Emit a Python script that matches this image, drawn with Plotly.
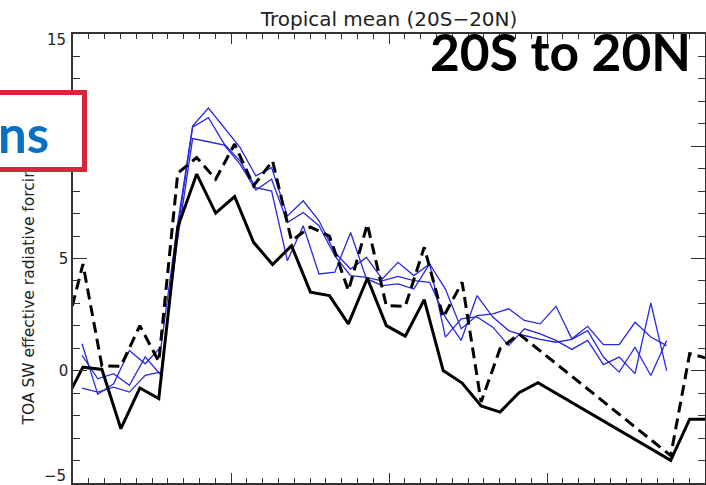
import plotly.graph_objects as go

# ---------------- data ----------------
# black series (observational estimates) - coarser time sampling
black_x = [-0.57, 0.63, 1.83, 3.03, 4.23, 5.43, 6.63, 7.83, 9.03, 10.23, 11.43, 12.63,
           13.83, 15.03, 16.23, 17.43, 18.63, 19.83, 21.03, 22.23, 23.43, 24.63, 25.83,
           27.03, 28.23, 29.43, 30.63, 31.83, 33.03, 34.23, 35.43, 36.63, 37.83, 39.03, 40.23]
black_solid = [-1.47, 0.16, 0.06, -2.58, -0.77, -1.24, 6.4, 8.76, 7.02, 7.76, 5.72, 4.73,
               5.57, 3.5, 3.35, 2.09, 4.12, 2.01, 1.54, 3.17, 0.01, -0.55, -1.57,
               -1.84, -0.98, -0.53, None, None, None, None, None, None, -3.99, -2.16, -2.16]
black_dashed = [1.42, 4.75, 0.22, 0.2, 2.01, 0.41, 8.8, 9.5, 8.53, 10.1, 8.24, 9.35,
                5.8, 6.4, 6.0, 3.57, 6.53, 2.9, 2.87, 5.5, 2.38, 3.94, -1.39,
                0.98, 1.64, None, None, None, None, None, None, None, -3.78, 0.76, 0.54]

# blue series (model runs) - annual sampling
blue_x = [0.57, 1.57, 2.57, 3.57, 4.57, 5.57, 6.57, 7.57, 8.57, 9.57, 10.57, 11.57, 12.57,
          13.57, 14.57, 15.57, 16.57, 17.57, 18.57, 19.57, 20.57, 21.57, 22.57, 23.57,
          24.57, 25.57, 26.57, 27.57, 28.57, 29.57, 30.57, 31.57, 32.57, 33.57, 34.57,
          35.57, 36.57, 37.57]
run_a = [1.2, -1.05, -0.58, 0.9, 0.31, 1.07, 6.3, 10.9, 11.7, 10.8, 9.95, 8.68, 9.05,
         6.9, 7.57, 6.68, 5.27, 4.53, 5.05, 4.09, 4.83, 4.24, 4.76, 3.64, 1.87, 2.46,
         2.53, 2.76, 2.24, 2.09, 2.87, 1.42, 1.98, 1.16, 1.16, 2.16, 1.5, 1.12]
run_b = [0.68, -0.36, -0.13, -0.65, 0.62, -0.2, 6.0, 10.85, 11.27, 10.1, 9.35, 8.16, 8.0,
         4.9, 6.46, 4.31, 4.39, 6.16, 4.1, 3.79, 3.87, 3.64, 4.76, 1.5, 2.31, 2.4,
         1.94, 1.12, 1.87, 1.64, 1.35, 0.95, 1.35, 0.27, 0.61, -0.13, 3.02, 0.01]
run_c = [-0.77, -0.95, -0.73, -0.95, -0.2, -0.05, 5.6, 10.34, 10.2, 10.05, 9.2, 8.05, 8.53,
         6.6, 7.05, 6.46, 5.12, 4.24, 4.16, 4.0, 4.2, 4.01, 3.94, 2.38, 1.35, 3.35,
         2.39, 1.79, 1.57, 1.4, 1.27, 1.4, 1.79, 0.61, -0.06, 1.05, -0.21, 1.35]

y_tickvals = [-5, 0, 5, 10, 15]
y_ticktext = ["\u22125", "0", "5", "10", "15"]

title_text = "Tropical mean (20S\u221220N)"
ylabel_text = "TOA SW effective radiative forcing"
overlay_text = "20S to 20N"
box_text = "ns"

# ---------------- layout geometry ----------------
W, H = 706, 485
ML, MR, MT, MB = 73, 1, 34, 2
PW, PH = W - ML - MR, H - MT - MB


def px(xp):
    return (xp - ML) / PW


def py(yp):
    return (H - MB - yp) / PH


fig = go.Figure()

blue = "rgb(40,40,225)"
for ys in (run_a, run_b, run_c):
    fig.add_trace(go.Scatter(x=blue_x, y=ys, mode="lines",
                             line=dict(color=blue, width=1.3), showlegend=False))

fig.add_trace(go.Scatter(x=black_x, y=black_dashed, mode="lines", connectgaps=True,
                         line=dict(color="black", width=3, dash="11px,6px"), showlegend=False))
fig.add_trace(go.Scatter(x=black_x, y=black_solid, mode="lines", connectgaps=True,
                         line=dict(color="black", width=3), showlegend=False))

axis_common = dict(showgrid=False, zeroline=False, showline=True, linecolor="#333",
                   linewidth=1.5, mirror="ticks", ticks="inside", tickcolor="#333",
                   automargin=False)

fig.update_xaxes(range=[0, 40], tick0=0, dtick=10, ticklen=10, tickwidth=1.2,
                 showticklabels=False,
                 minor=dict(ticks="inside", dtick=1, ticklen=5, tickcolor="#333", tickwidth=1),
                 **axis_common)
# edge labels (first / last) are kept inside the page like the original (IDL style)
inner_text = ["" if i in (0, len(y_tickvals) - 1) else t for i, t in enumerate(y_ticktext)]
fig.update_yaxes(range=[-5, 15], tickvals=y_tickvals, ticktext=inner_text,
                 ticklen=14, tickwidth=1.2,
                 tickfont=dict(family="DejaVu Sans", size=15, color="#222"),
                 minor=dict(ticks="inside", dtick=1, ticklen=7, tickcolor="#333", tickwidth=1),
                 **axis_common)

tick_font = dict(family="DejaVu Sans", size=15, color="#222")
annotations = [
    dict(text=y_ticktext[-1], xref="paper", yref="paper", x=px(68), y=py(40),
         xanchor="right", yanchor="middle", showarrow=False, font=tick_font),
    dict(text=y_ticktext[0], xref="paper", yref="paper", x=px(68), y=py(476),
         xanchor="right", yanchor="middle", showarrow=False, font=tick_font),
    # y-axis label
    dict(text=ylabel_text, textangle=-90, xref="paper", yref="paper",
         x=px(28), y=py(428), xanchor="center", yanchor="bottom", showarrow=False,
         font=dict(family="DejaVu Sans", size=15.5, color="#222")),
    # red framed box (cut at the left page edge)
    dict(text="&nbsp;", xref="paper", yref="paper", x=px(87), y=py(90),
         xanchor="right", yanchor="top", showarrow=False, width=160, height=72,
         borderwidth=5, borderpad=0, bordercolor="#d4263c", bgcolor="white"),
    dict(text="<b>" + box_text + "</b>", xref="paper", yref="paper", x=px(51), y=py(133),
         xanchor="right", yanchor="middle", showarrow=False,
         font=dict(family="Lato", size=51, color="#0a70c2")),
    # big overlay label
    dict(text="<b>" + overlay_text + "</b>", xref="paper", yref="paper", x=px(693), y=py(51),
         xanchor="right", yanchor="middle", showarrow=False,
         font=dict(family="Lato", size=51.5, color="black")),
]

fig.update_layout(
    width=W, height=H,
    margin=dict(l=ML, r=MR, t=MT, b=MB, autoexpand=False),
    paper_bgcolor="white", plot_bgcolor="white",
    title=dict(text=title_text, x=px(389), xanchor="center", xref="paper",
               y=1 - 19 / H, yanchor="middle", yref="container",
               font=dict(family="DejaVu Sans", size=20, color="#222")),
    annotations=annotations,
)

fig.write_html("out.html")
